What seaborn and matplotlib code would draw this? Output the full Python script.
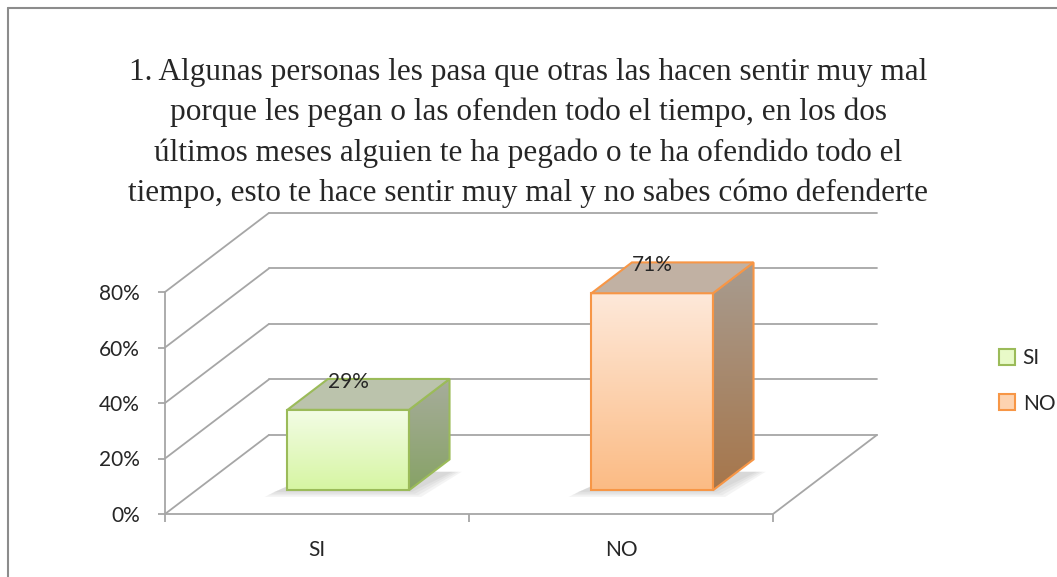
import numpy as np
import pandas as pd
import matplotlib
matplotlib.use('Agg')
import matplotlib.pyplot as plt
import seaborn as sns
from matplotlib.patches import Polygon, Patch
from matplotlib.lines import Line2D
from matplotlib.colors import LinearSegmentedColormap

title_lines = [
    "1. Algunas personas les pasa que otras las hacen sentir muy mal",
    "porque les pegan o las ofenden todo el tiempo, en los dos",
    "últimos meses alguien te ha pegado o te ha ofendido todo el",
    "tiempo, esto te hace sentir muy mal y no sabes cómo defenderte",
]
categories = ["SI", "NO"]
values = [29, 71]
value_labels = ["29%", "71%"]
y_ticks = [0, 20, 40, 60, 80]
y_ticklabels = ["0%", "20%", "40%", "60%", "80%"]

front_top = ["#f3fde6", "#fee9da"]
front_bottom = ["#d6f5a2", "#fbbb84"]
side_top = ["#a7ad9c", "#a89c90"]
side_bottom = ["#87a266", "#a6764b"]
top_colors = ["#bbc3ac", "#c1b1a3"]
edge_colors = ["#9bbb59", "#f79646"]
legend_fill = ["#e8fac8", "#fdd3b0"]

# oblique 3D look: depth z in [0, 1] shifts a point by (DX, DY) in data units
DX, DY = 0.342, 28.5
Z0, DZ = 0.30, 0.39
GRID = "#a6a6a6"

W, H, DPI = 1057, 577, 100
sns.set_style("white")
plt.rcParams['font.family'] = ['Lato', 'DejaVu Sans']

fig = plt.figure(figsize=(W / DPI, H / DPI), dpi=DPI)
ax = fig.add_axes([165 / W, (H - 514) / H, 2.35 * 304 / W, 110 * 2.775 / H])

df = pd.DataFrame({"cat": categories, "val": values})
sns.barplot(data=df, x="cat", y="val", hue="cat", palette=front_bottom,
            width=0.4, saturation=1, errorbar=None, legend=False, ax=ax)

# walls and floor
x0, x1 = -0.5, 1.5
for v in y_ticks:
    ax.plot([x0, x0 + DX], [v, v + DY], color=GRID, lw=1.3, zorder=1, clip_on=False)
    ax.plot([x0 + DX, x1 + DX], [v + DY, v + DY], color=GRID, lw=1.3, zorder=1, clip_on=False)
ax.plot([x0, x1, x1 + DX], [0, 0, DY], color=GRID, lw=1.3, zorder=1, clip_on=False)
ax.plot([x0, x0], [0, y_ticks[-1]], color=GRID, lw=1.3, zorder=1, clip_on=False)

grad = np.linspace(0, 1, 256).reshape(-1, 1)
ddx, ddy = DZ * DX, DZ * DY
for i, bar in enumerate(list(ax.patches)):
    bx = bar.get_x() + Z0 * DX
    by = Z0 * DY
    bw, bh = bar.get_width(), bar.get_height()
    ty = by + bh
    bar.set_x(bx)
    bar.set_y(by)
    bar.set_facecolor('none')
    bar.set_edgecolor(edge_colors[i])
    bar.set_linewidth(1.5)
    bar.set_zorder(5)

    # soft shadow on the floor, slightly to the lower left
    for k in range(4):
        e = 0.01 * (4 - k)
        d = 0.6 * (4 - k)
        sh = Polygon([(bx - 0.035 - e, by - d), (bx + bw + e, by - d),
                      (bx + bw + ddx + e, by + ddy * 0.6), (bx + ddx - e, by + ddy * 0.6)],
                     closed=True, facecolor='#6f6f6f', edgecolor='none', alpha=0.07, zorder=2)
        ax.add_patch(sh)

    # front face
    cm = LinearSegmentedColormap.from_list('f%d' % i, [front_bottom[i], front_top[i]])
    im = ax.imshow(grad, extent=[bx, bx + bw, by, ty], origin='lower', cmap=cm,
                   aspect='auto', zorder=4, interpolation='bilinear')
    im.set_clip_path(bar)

    # side face
    side = Polygon([(bx + bw, by), (bx + bw + ddx, by + ddy), (bx + bw + ddx, ty + ddy), (bx + bw, ty)],
                   closed=True, facecolor='none', edgecolor=edge_colors[i], lw=1.5, zorder=5)
    ax.add_patch(side)
    cs = LinearSegmentedColormap.from_list('s%d' % i, [side_bottom[i], side_top[i]])
    ims = ax.imshow(grad, extent=[bx + bw, bx + bw + ddx, by, ty + ddy], origin='lower', cmap=cs,
                    aspect='auto', zorder=3, interpolation='bilinear')
    ims.set_clip_path(side)

    # top face
    top = Polygon([(bx, ty), (bx + bw, ty), (bx + bw + ddx, ty + ddy), (bx + ddx, ty + ddy)],
                  closed=True, facecolor=top_colors[i], edgecolor=edge_colors[i], lw=1.5, zorder=5)
    ax.add_patch(top)

    ax.annotate(value_labels[i], (bx + bw / 2, ty), xytext=(0, 20), textcoords='offset points',
                ha='center', va='center', fontsize=15, zorder=6)

ax.set_xlim(-0.5, 1.85)
ax.set_ylim(0, 110)
ax.set_yticks(y_ticks, y_ticklabels)
ax.set_xticks([0, 1], categories)
ax.set_xticks([-0.5, 0.5, 1.5], minor=True)
ax.tick_params(axis='x', which='major', length=0, pad=19, labelsize=15, bottom=True)
ax.tick_params(axis='x', which='minor', length=6, color=GRID, width=1.3, direction='out', bottom=True)
ax.tick_params(axis='y', length=5, color=GRID, width=1.3, pad=13, labelsize=15, left=True)
ax.set_xlabel('')
ax.set_ylabel('')
for s in ax.spines.values():
    s.set_visible(False)
ax.patch.set_alpha(0)

handles = [Patch(facecolor=legend_fill[i], edgecolor=edge_colors[i], lw=1.5, label=c)
           for i, c in enumerate(categories)]
fig.legend(handles=handles, loc='center left', bbox_to_anchor=(980 / W, 1 - 381 / H), frameon=False,
           fontsize=15, handlelength=0.8, handleheight=0.8, handletextpad=0.35, labelspacing=1.2)

for k, line in enumerate(title_lines):
    fig.text(528 / W, 1 - (72 + 40.5 * k) / H, line, ha='center', va='center',
             family='Liberation Serif', fontsize=22.5)

# chart area border (only top and left are visible in the frame)
fig.add_artist(Line2D([8 / W, 8 / W], [0, 1 - 8 / H], color='#8c8c8c', lw=1.5, transform=fig.transFigure))
fig.add_artist(Line2D([8 / W, 1], [1 - 8 / H, 1 - 8 / H], color='#8c8c8c', lw=1.5, transform=fig.transFigure))

fig.savefig('out.png', dpi=DPI)
